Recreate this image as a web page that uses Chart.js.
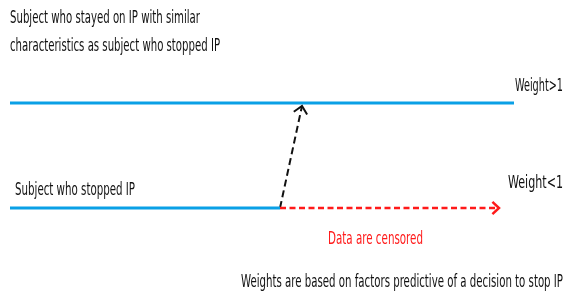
<!DOCTYPE html>
<html>
<head>
<meta charset="utf-8">
<script src="https://cdn.jsdelivr.net/npm/chart.js@4.4.1/dist/chart.umd.min.js"></script>
<style>
  html, body { margin: 0; padding: 0; background: #fff; }
  #wrap { width: 564px; height: 295px; position: relative; }
</style>
</head>
<body>
<div id="wrap"><canvas id="diagram"></canvas></div>
<script>
// Diagram paths (x, y in picture units: 0..564, 0..295)
const stayedPath = [[10, 103], [514, 103]];
const stoppedPath = [[10, 208], [280, 208]];
const censoredPath = [[280, 208], [499, 208]];
const weightPath = [[280, 208], [302, 106]];

// Text labels
const labelTexts = [
    'Subject who stayed on IP with similar',
    'characteristics as subject who stopped IP',
    'Weight>1',
    'Weight<1',
    'Subject who stopped IP',
    'Data are censored',
    'Weights are based on factors predictive of a decision to stop IP'
];
const labelX = [10, 10, 515, 508, 15, 328, 241];
const labelY = [18, 46, 86, 183, 190, 239, 282];
const labelW = [190, 210, 48, 55, 120, 95, 322];

const BLUE = '#0aa0e6';
const RED = '#ff1a1a';

function pts(path) {
    return path.map(p => ({ x: p[0], y: p[1] }));
}

// draws an open arrow head at the last point of datasets marked with arrow
const arrowPlugin = {
    id: 'arrows',
    afterDatasetsDraw(chart) {
        const ctx = chart.ctx;
        chart.data.datasets.forEach((ds, i) => {
            if (!ds.arrow) return;
            const meta = chart.getDatasetMeta(i);
            const n = meta.data.length;
            const a = meta.data[n - 2], b = meta.data[n - 1];
            const ang = Math.atan2(b.y - a.y, b.x - a.x);
            const len = ds.arrow;
            ctx.save();
            ctx.strokeStyle = ds.borderColor;
            ctx.lineWidth = ds.borderWidth;
            ctx.setLineDash([]);
            ctx.beginPath();
            ctx.moveTo(b.x - len * Math.cos(ang - 0.75), b.y - len * Math.sin(ang - 0.75));
            ctx.lineTo(b.x, b.y);
            ctx.lineTo(b.x - len * Math.cos(ang + 0.75), b.y - len * Math.sin(ang + 0.75));
            ctx.stroke();
            ctx.restore();
        });
    }
};

const textPlugin = {
    id: 'texts',
    afterDraw(chart) {
        const ctx = chart.ctx;
        const xs = chart.scales.x, ys = chart.scales.y;
        ctx.save();
        ctx.font = '18px "Liberation Sans Narrow", "DejaVu Sans Condensed", sans-serif';
        ctx.textBaseline = 'middle';
        ctx.textAlign = 'left';
        labelTexts.forEach((t, i) => {
            ctx.fillStyle = t === 'Data are censored' ? RED : '#111';
            const x = xs.getPixelForValue(labelX[i]);
            const y = ys.getPixelForValue(labelY[i]);
            const w = ctx.measureText(t).width;
            const sx = labelW[i] / w;
            ctx.save();
            ctx.translate(x, y);
            ctx.scale(sx, 1);
            ctx.fillText(t, 0, 0);
            ctx.restore();
        });
        ctx.restore();
    }
};

new Chart(document.getElementById('diagram'), {
    type: 'scatter',
    data: {
        datasets: [
            { data: pts(stayedPath), borderColor: BLUE, borderWidth: 3 },
            { data: pts(stoppedPath), borderColor: BLUE, borderWidth: 3 },
            { data: pts(censoredPath), borderColor: RED, borderWidth: 2.5, borderDash: [6, 3.5], arrow: 9 },
            { data: pts(weightPath), borderColor: '#111', borderWidth: 2, borderDash: [7, 4], arrow: 10 }
        ]
    },
    options: {
        responsive: true,
        maintainAspectRatio: false,
        animation: false,
        showLine: true,
        layout: { padding: 0 },
        elements: { point: { radius: 0, hoverRadius: 0 }, line: { tension: 0, borderCapStyle: 'butt' } },
        scales: {
            x: { type: 'linear', min: 0, max: 564, display: false },
            y: { type: 'linear', min: 0, max: 295, reverse: true, display: false }
        },
        plugins: { legend: { display: false }, tooltip: { enabled: false } }
    },
    plugins: [arrowPlugin, textPlugin]
});
</script>
</body>
</html>
